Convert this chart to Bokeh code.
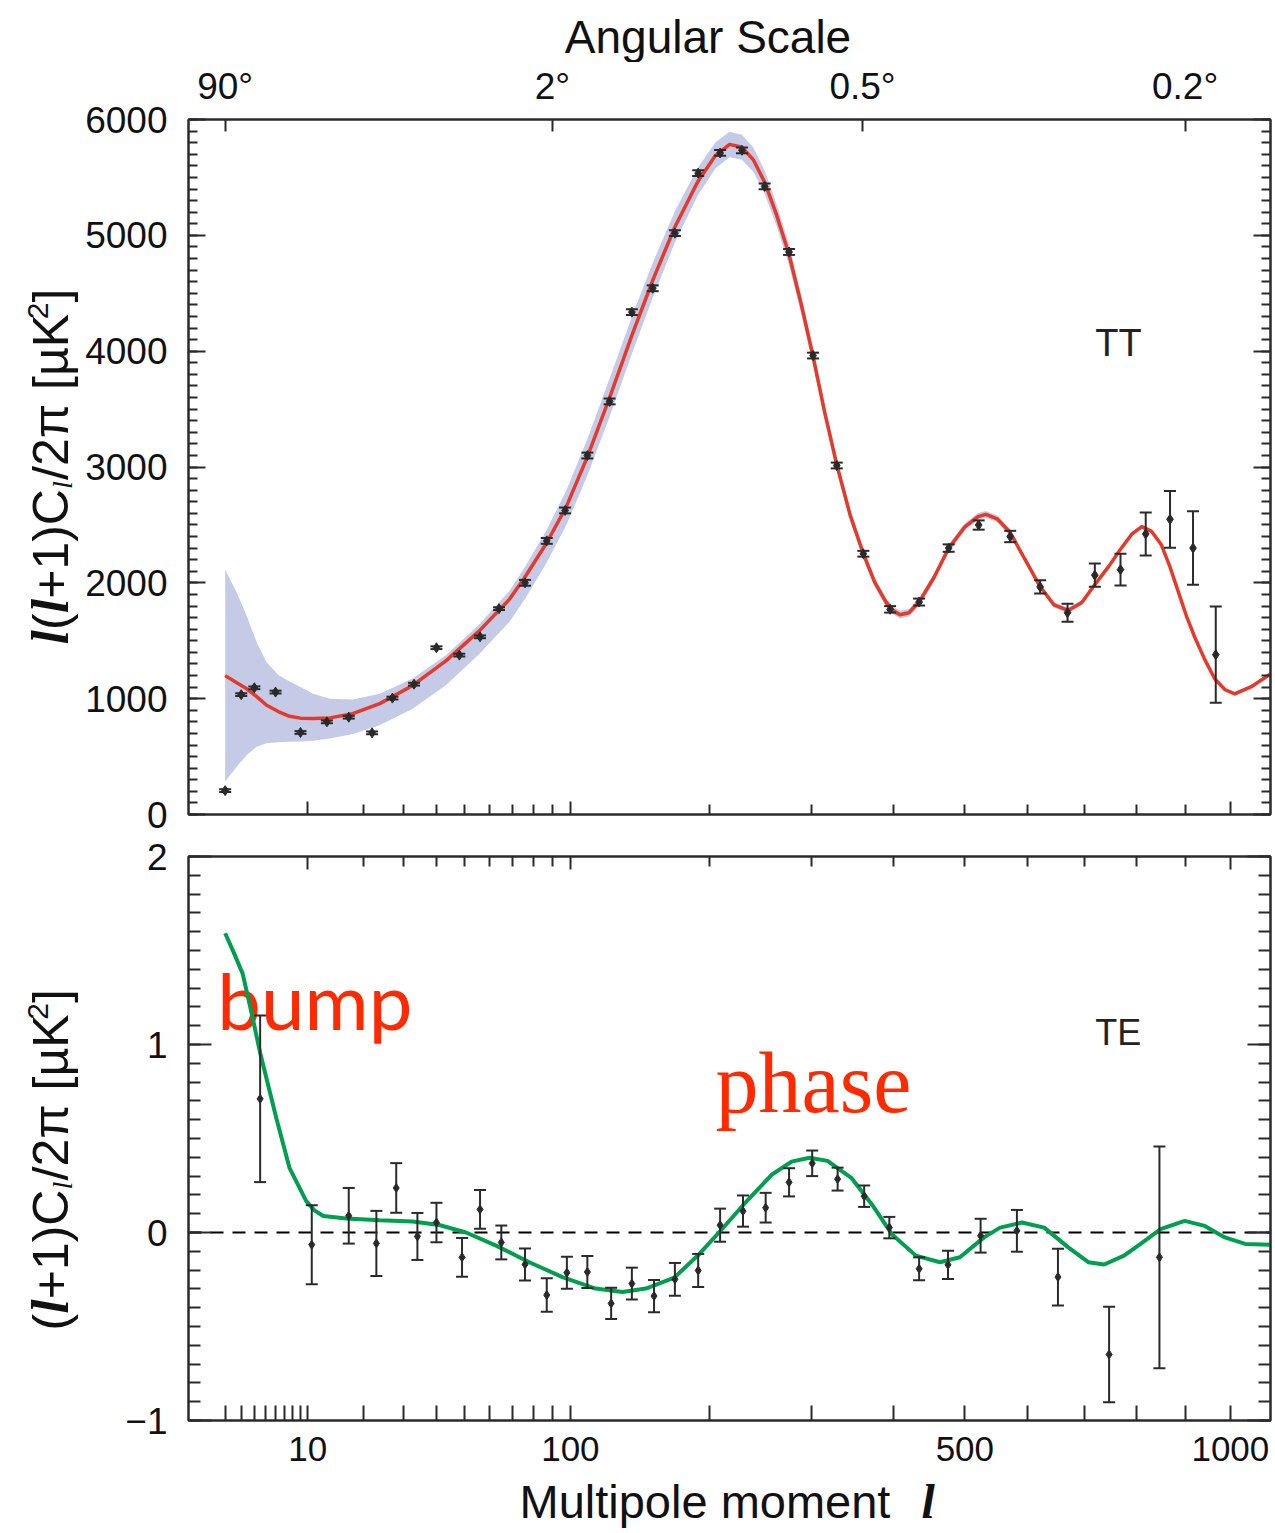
import numpy as np
from math import pi
from bokeh.plotting import figure
from bokeh.layouts import column, row
from bokeh.models import (ColumnDataSource, Whisker, TeeHead, FixedTicker, SingleIntervalTicker,
                          LinearAxis, Span, Range1d, CustomJSTickFormatter)
from bokeh.embed import file_html
from bokeh.resources import INLINE
from bokeh.core.properties import value

# ---------------- data ----------------
# TT spectrum: binned measurements
tt_l = [2, 3, 4, 6, 9, 13, 17, 22, 27, 33, 40, 48, 56, 64, 76, 87, 97, 110, 124, 139, 154, 171,
        190, 209, 229, 251, 276, 302, 329, 361, 395, 434, 476, 521, 571, 621, 669, 719, 768, 818,
        868, 917, 967]
tt_val = [206, 1034, 1094, 1057, 708, 800, 840, 705, 1005, 1125, 1440, 1376, 1534, 1777, 2000,
          2362, 2625, 3099, 3566, 4337, 4543, 5019, 5537, 5711, 5734, 5422, 4856, 3962, 3013, 2251,
          1771, 1834, 2300, 2499, 2400, 1965, 1742, 2066, 2114, 2422, 2548, 2300, 1380]
tt_err = [12, 12, 12, 12, 12, 12, 12, 12, 12, 12, 12, 12, 12, 12, 25, 25, 25, 25, 25, 25, 25, 25,
          25, 25, 25, 25, 25, 25, 25, 25, 28, 30, 32, 40, 49, 58, 77, 100, 137, 185, 245, 317, 416]

# TT best-fit model curve
tt_model_l = [2, 2.7, 3.4, 4.2, 5.1, 6.3, 7.6, 9, 10.8, 13.5, 17.8, 23.8, 32.6, 43.3, 55.7, 68.6,
              75.6, 86.6, 97.5, 110, 124, 139.4, 154.3, 170.9, 190, 205, 217.6, 229, 240, 251.3,
              263, 275.8, 289, 301.7, 315, 329.4, 345, 361, 375, 390, 399, 408, 420, 434, 455, 476,
              500, 520, 532, 550, 571, 595, 621, 645, 670, 695, 719, 745, 768, 790, 810, 830, 850,
              868, 885, 903, 921, 943, 965, 988, 1010, 1050, 1094]
tt_model = [1199, 1137, 1085, 1018, 943, 889, 848, 832, 828, 834, 870, 957, 1114, 1328, 1585, 1857,
            2040, 2335, 2652, 3087, 3600, 4150, 4620, 5070, 5470, 5691, 5785, 5760, 5651, 5453,
            5176, 4839, 4404, 3963, 3473, 3008, 2582, 2251, 2008, 1830, 1762, 1725, 1742, 1834, 2048,
            2299, 2483, 2572, 2591, 2553, 2434, 2206, 1968, 1810, 1762, 1830, 1985, 2140, 2290, 2420,
            2485, 2444, 2328, 2137, 1928, 1711, 1528, 1335, 1170, 1077, 1042, 1107, 1213]
# cosmic-variance band: extent above / below the model
tt_band_up = [914, 777, 629, 467, 372, 316, 300, 268, 214, 165, 122, 85, 60, 50, 57, 72,
              85, 110, 140, 155, 165, 160, 150, 135, 120, 112, 110, 108, 105, 100,
              95, 90, 82, 75, 66, 58, 50, 44, 40, 36, 34, 33, 33, 34, 34, 34,
              32, 30, 30, 30, 28, 26, 24, 22, 22, 22, 22, 20, 18, 16, 16, 16, 16,
              16, 16, 16, 16, 16, 16, 16, 16, 16, 16]
tt_band_dn = [914, 723, 571, 433, 328, 265, 221, 202, 191, 177, 175, 187, 200, 210, 200, 195,
              190, 170, 160, 160, 165, 160, 150, 135, 120, 112, 110, 108, 105, 100,
              95, 90, 82, 75, 66, 58, 50, 44, 40, 36, 34, 33, 33, 34, 34, 34,
              32, 30, 30, 30, 28, 26, 24, 22, 22, 22, 22, 20, 18, 16, 16, 16, 16,
              16, 16, 16, 16, 16, 16, 16, 16, 16, 16]

# TE spectrum: binned measurements
te_l = [4.5, 10.6, 17, 23, 28, 34, 40, 49, 56, 65, 76, 87, 98, 110, 125, 139, 155, 171, 190, 209,
        230, 252, 276, 301, 330, 362, 394, 434, 475, 524, 582, 652, 746, 846]
te_val = [0.711, -0.065, 0.089, -0.058, 0.237, -0.021, 0.053, -0.132, 0.123, -0.053,
          -0.17, -0.333, -0.214, -0.21, -0.377, -0.272, -0.338, -0.249, -0.202, 0.039,
          0.114, 0.132, 0.267, 0.368, 0.284, 0.193, 0.026, -0.193, -0.172, -0.017,
          0.009, -0.237, -0.649, -0.132]
te_err = [0.443, 0.21, 0.148, 0.173, 0.132, 0.125, 0.105, 0.103, 0.103, 0.09,
          0.085, 0.089, 0.085, 0.085, 0.083, 0.085, 0.086, 0.087, 0.088, 0.088,
          0.083, 0.079, 0.075, 0.068, 0.061, 0.057, 0.057, 0.061, 0.075, 0.09,
          0.111, 0.151, 0.254, 0.59]

# TE model curve
te_model_l = [2, 2.5, 3.1, 3.7, 4.5, 6.1, 7.6, 9.8, 11, 12.4, 16.5, 23.8, 32.6, 40.9, 50.5, 62.7,
              78.1, 95.5, 115, 132.5, 149, 170.6, 191, 208, 230.7, 258, 278.6, 298, 318.3, 346.7,
              371.7, 397.3, 429.5, 463.3, 492.6, 529.3, 554.6, 590.5, 628, 670.4, 706.8, 736.6,
              775, 816, 848.4, 899, 942.6, 987.5, 1034, 1094]
te_model = [1.592, 1.49, 1.377, 1.19, 0.956, 0.605, 0.342, 0.167, 0.118, 0.088, 0.074, 0.065,
            0.058, 0.04, 0.0, -0.07, -0.158, -0.237, -0.298, -0.316, -0.298, -0.24, -0.114, 0.0,
            0.149, 0.307, 0.377, 0.398, 0.381, 0.289, 0.149, -0.009, -0.123, -0.158, -0.132,
            -0.026, 0.026, 0.053, 0.026, -0.079, -0.158, -0.17, -0.123, -0.044, 0.018, 0.062,
            0.035, -0.026, -0.061, -0.065]

# axis ticks
l_major_bottom = [10, 100, 500, 1000]
l_minor_bottom = [2, 3, 4, 5, 6, 7, 8, 9, 20, 30, 40, 50, 60, 70, 80, 90, 200, 300, 400, 600, 700, 800, 900]
l_major_mid = [10, 100, 1000]
l_minor_mid = [20, 30, 40, 50, 60, 70, 80, 90, 200, 300, 400, 500, 600, 700, 800, 900]
angular_ticks_deg = [90, 2, 0.5, 0.2]          # theta ~ 180 deg / l
L_MIN, L_MAX = 0.554, 1094.0                    # visible multipole range

# ---------------- helpers ----------------
POW = 0.4  # the multipole axis is linear in l**0.4


def u(l):
    return np.asarray(l, dtype=float) ** POW


SANS = "Liberation Sans"
SERIF = "Liberation Serif"
INK = "#2a2a2a"
TXT = "#111111"
# measured drop of the rendered baseline below the anchor, in em
DROP = {SANS: 0.35, SERIF: 0.34, "Lato": 0.37}

# page geometry (pixels)
PAGE_W, PAGE_H = 1275, 1533
LEFT_W = 80          # strip holding the vertical axis titles
TOP_H = 62           # strip holding "Angular Scale"
BOT_H = 57           # strip holding "Multipole moment l"
MAIN_W = PAGE_W - LEFT_W
B_LEFT, B_RIGHT = 108, 5
FRAME_X0 = LEFT_W + B_LEFT
FRAME_X1 = PAGE_W - B_RIGHT
P1_H, P1_TOP, P1_BOT = 773, 56, 21
P2_H, P2_TOP, P2_BOT = 641, 21, 56

xr = Range1d(u(L_MIN), u(L_MAX))
common = dict(width=MAIN_W, output_backend="svg", toolbar_location=None, x_range=xr,
              x_axis_type=None, y_axis_type=None, min_border_left=B_LEFT, min_border_right=B_RIGHT,
              background_fill_color="white", border_fill_color="white")

p1 = figure(height=P1_H, y_range=Range1d(0, 6000), min_border_top=P1_TOP, min_border_bottom=P1_BOT, **common)
p2 = figure(height=P2_H, y_range=Range1d(-1, 2), min_border_top=P2_TOP, min_border_bottom=P2_BOT, **common)

blank = CustomJSTickFormatter(code="return ''")
l_fmt = CustomJSTickFormatter(code="return String(Math.round(Math.pow(tick, 2.5)));")
ang_fmt = CustomJSTickFormatter(code="const l = Math.round(Math.pow(tick, 2.5)); return String(180 / l) + '\u00b0';")
y_fmt = CustomJSTickFormatter(code="const v = Math.round(tick); return v < 0 ? '\u2212' + Math.abs(v) : String(v);")


def make_axis(fig, place, ticker, tick_in, minor_in, fmt=None, size="37px", standoff=20):
    ax = LinearAxis(ticker=ticker)
    ax.axis_line_color = INK
    ax.axis_line_width = 2
    ax.major_tick_line_color = INK
    ax.major_tick_line_width = 2
    ax.minor_tick_line_color = INK
    ax.minor_tick_line_width = 2
    ax.major_tick_in = tick_in
    ax.major_tick_out = 0
    ax.minor_tick_in = minor_in
    ax.minor_tick_out = 0
    if fmt is None:
        ax.formatter = blank
        ax.major_label_text_font_size = "0px"
        ax.major_label_standoff = 0
    else:
        ax.formatter = fmt
        ax.major_label_text_font = SANS
        ax.major_label_text_font_size = size
        ax.major_label_text_color = TXT
        ax.major_label_standoff = standoff
    fig.add_layout(ax, place)
    return ax


for p in (p1, p2):
    p.outline_line_color = INK
    p.outline_line_width = 2

# ---- top panel (TT) ----
make_axis(p1, "left", SingleIntervalTicker(interval=1000, num_minor_ticks=10), 17, 9, fmt=y_fmt, standoff=21)
make_axis(p1, "right", SingleIntervalTicker(interval=1000, num_minor_ticks=10), 17, 9)
make_axis(p1, "below", FixedTicker(ticks=list(u(l_major_mid)), minor_ticks=list(u(l_minor_mid))), 13, 10)
ang_l = [180.0 / a for a in angular_ticks_deg]
make_axis(p1, "above", FixedTicker(ticks=list(u(ang_l))), 12, 0, fmt=ang_fmt, standoff=13)

lo = np.array(tt_model) - np.array(tt_band_dn)
hi = np.array(tt_model) + np.array(tt_band_up)
p1.varea(x=u(tt_model_l), y1=lo, y2=hi, fill_color="#C5CAE6")
p1.line(u(tt_model_l), tt_model, line_color="#E53A2B", line_width=3.5)

tt_src = ColumnDataSource(dict(x=u(tt_l), y=tt_val,
                               lo=np.array(tt_val) - np.array(tt_err),
                               hi=np.array(tt_val) + np.array(tt_err)))
p1.add_layout(Whisker(source=tt_src, base="x", lower="lo", upper="hi", dimension="height",
                      line_color=INK, line_width=2, level="glyph",
                      upper_head=TeeHead(size=12, line_color=INK, line_width=2),
                      lower_head=TeeHead(size=12, line_color=INK, line_width=2)))
p1.scatter("x", "y", source=tt_src, marker="diamond", size=10, color=INK)

p1.text(x=u([720]), y=[4074], text=["TT"], text_font=value(SANS), text_font_size="38px",
        text_baseline="middle", text_align="left", text_color="#222222")

# ---- bottom panel (TE) ----
make_axis(p2, "left", SingleIntervalTicker(interval=1, num_minor_ticks=10), 23, 12, fmt=y_fmt, standoff=21)
make_axis(p2, "right", SingleIntervalTicker(interval=1, num_minor_ticks=10), 23, 12)
make_axis(p2, "below", FixedTicker(ticks=list(u(l_major_bottom)), minor_ticks=list(u(l_minor_bottom))),
          15, 15, fmt=l_fmt, size="35px", standoff=16)
make_axis(p2, "above", FixedTicker(ticks=list(u(l_major_mid)), minor_ticks=list(u(l_minor_mid))), 13, 10)

p2.add_layout(Span(location=0, dimension="width", line_color="black", line_width=2,
                   line_dash="13 9", level="underlay"))

PX_PER_UNIT_TE = (P2_H - P2_TOP - P2_BOT) / 3.0
p2.text(x=u([1.6]), y=[1.083 + DROP["Lato"] * 78 / PX_PER_UNIT_TE], text=["bump"],
        text_font=value("Lato"), text_font_size="78px",
        text_baseline="alphabetic", text_align="left", text_color="#FF2A00")
p2.text(x=u([205]), y=[0.641 + DROP[SERIF] * 86 / PX_PER_UNIT_TE], text=["phase"],
        text_font=value(SERIF), text_font_size="86px",
        text_baseline="alphabetic", text_align="left", text_color="#FF2A00")
p2.text(x=u([720]), y=[1.062], text=["TE"], text_font=value(SANS), text_font_size="36px",
        text_baseline="middle", text_align="left", text_color="#222222")

p2.line(u(te_model_l), te_model, line_color="#009E4F", line_width=4)

te_src = ColumnDataSource(dict(x=u(te_l), y=te_val,
                               lo=np.array(te_val) - np.array(te_err),
                               hi=np.array(te_val) + np.array(te_err)))
p2.add_layout(Whisker(source=te_src, base="x", lower="lo", upper="hi", dimension="height",
                      line_color=INK, line_width=2, level="glyph",
                      upper_head=TeeHead(size=12, line_color=INK, line_width=2),
                      lower_head=TeeHead(size=12, line_color=INK, line_width=2)))
p2.scatter("x", "y", source=te_src, marker="diamond", size=9, color=INK)


# ---- title strips: plain figures whose data coordinates are page pixels ----
def strip(width, height, y0, x_lo, x_hi, bl=0, br=0):
    f = figure(width=width, height=height, output_backend="svg", toolbar_location=None,
               x_range=Range1d(x_lo, x_hi), y_range=Range1d(y0 + height, y0),
               x_axis_type=None, y_axis_type=None, min_border_top=0, min_border_bottom=0,
               min_border_left=bl, min_border_right=br,
               background_fill_color="white", border_fill_color="white")
    f.outline_line_color = None
    return f


def put(fig, text, x, y, font, size, style="normal", angle=0.0, align="left"):
    fig.text(x=[x], y=[y], text=[text], angle=angle, text_font=value(font),
             text_font_size=f"{size}px", text_font_style=style, text_align=align,
             text_baseline="alphabetic", text_color=TXT)


def vertical_title(fig, pieces, base_x, y0):
    # text runs upward; the glyph "down" direction is +x on the page
    y = y0
    for text, font, style, size, adv, shift in pieces:
        put(fig, text, base_x + shift - DROP[font] * size, y, font, size, style, angle=pi / 2)
        y -= adv


left = strip(LEFT_W, PAGE_H, 0, 0, LEFT_W)
top = strip(MAIN_W, TOP_H, 0, FRAME_X0, FRAME_X1, B_LEFT, B_RIGHT)
bottom = strip(MAIN_W, BOT_H, PAGE_H - BOT_H, FRAME_X0, FRAME_X1, B_LEFT, B_RIGHT)

ell = ("l", SERIF, "bold italic", 52, 14.5, 0)
sub_ell = ("l", SERIF, "italic", 28, 9.0, 4)
tail = [("/2\u03c0 [\u00b5K", SANS, "normal", 50, 160.7, 0),
        ("2", SANS, "normal", 30, 16.7, -20),
        ("]", SANS, "normal", 50, 13.9, 0)]
top_title = [ell, ("(", SANS, "normal", 50, 16.7, 0), ell,
             ("+1)C", SANS, "normal", 50, 109.8, 0), sub_ell] + tail
bot_title = [("(", SANS, "normal", 50, 16.7, 0), ell,
             ("+1)C", SANS, "normal", 50, 109.8, 0), sub_ell] + tail
vertical_title(left, top_title, 68, 644)
vertical_title(left, bot_title, 68, 1330)

put(top, "Angular Scale", 707.5, 52.7 - DROP[SANS] * 46, SANS, 46, align="center")
put(bottom, "Multipole moment", 519, 1517 - DROP[SANS] * 47, SANS, 47)
put(bottom, "l", 921, 1517 - DROP[SERIF] * 48, SERIF, 48, style="bold italic")

layout = row(left, column(top, p1, p2, bottom, spacing=0), spacing=0)
open("out.html", "w").write(file_html(layout, INLINE))
